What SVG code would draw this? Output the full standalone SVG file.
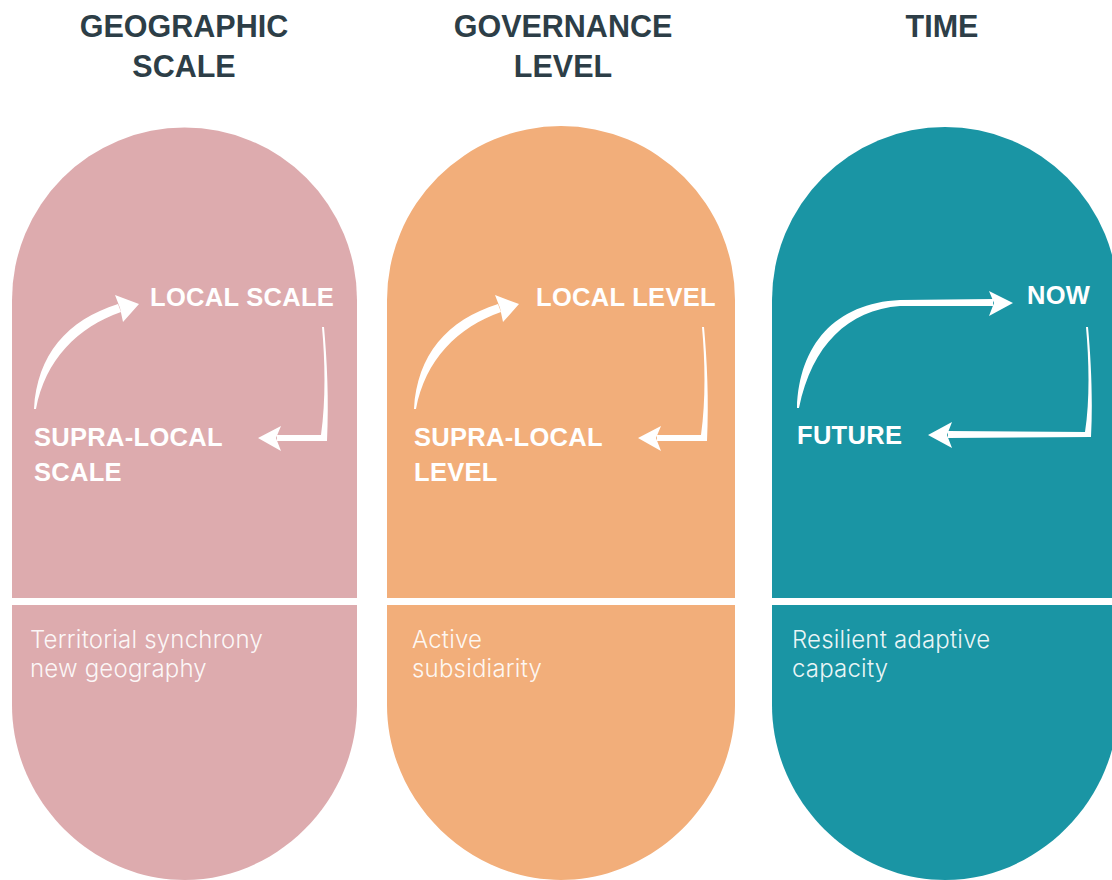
<svg xmlns="http://www.w3.org/2000/svg" width="1112" height="880" viewBox="0 0 1112 880">
<style>
.title{font-family:"Liberation Sans",Arial,sans-serif;font-weight:bold;font-size:30.5px;fill:#2D3E47;text-anchor:middle}
.lbl{font-family:"Liberation Sans",Arial,sans-serif;font-weight:bold;font-size:25.5px;fill:#FFFFFF;letter-spacing:0.3px}
.desc{font-family:Inter,"Liberation Sans",sans-serif;font-weight:300;font-size:24px;fill:#FFFFFF;fill-opacity:0.92;letter-spacing:0.2px}
.arr{fill:#FFFFFF}
</style>
<rect width="1112" height="880" fill="#FFFFFF"/>
<g id="titles">
<text class="title" x="184" y="37">GEOGRAPHIC</text>
<text class="title" x="184" y="77">SCALE</text>
<text class="title" x="563" y="37">GOVERNANCE</text>
<text class="title" x="563" y="77">LEVEL</text>
<text class="title" x="942" y="37">TIME</text>
</g>
<g id="geographic">
<path d="M12,300 A172.5,172.5 0 0 1 357,300 L357,705 C357,800 278,880 184.5,880 C91,880 12,800 12,705 Z" fill="#DDABAE"/>
<text class="lbl" x="150" y="306">LOCAL SCALE</text>
<text class="lbl" x="34" y="446">SUPRA-LOCAL</text>
<text class="lbl" x="34" y="481">SCALE</text>
<text class="desc" x="30" y="648">Territorial synchrony</text>
<text class="desc" x="30" y="677">new geography</text>
</g>
<g id="governance">
<path d="M387,300 A174,174 0 0 1 735,300 L735,705 C735,800 655,880 561,880 C467,880 387,800 387,705 Z" fill="#F2AE7A"/>
<text class="lbl" x="536" y="306">LOCAL LEVEL</text>
<text class="lbl" x="414" y="446">SUPRA-LOCAL</text>
<text class="lbl" x="414" y="481">LEVEL</text>
<text class="desc" x="412" y="648">Active</text>
<text class="desc" x="412" y="677">subsidiarity</text>
</g>
<g id="time">
<path d="M772,300 A173,173 0 0 1 1118,300 L1118,705 C1118,800 1038,880 945,880 C851,880 772,800 772,705 Z" fill="#1A95A4"/>
<text class="lbl" x="1027" y="304">NOW</text>
<text class="lbl" x="797" y="444">FUTURE</text>
<text class="desc" x="792" y="648">Resilient adaptive</text>
<text class="desc" x="792" y="677">capacity</text>
</g>
<rect x="0" y="598" width="1112" height="7" fill="#FFFFFF"/>
<g id="connectors">
<path class="arr" d="M34,409 C37,355 67,320 118,304 L121,312 C78,327 45,360 36,409 Z"/>
<path class="arr" d="M139,304 L115,295 L120,308 L123,322 Z"/>
<path class="arr" d="M322,327 C325,360 326,400 321,435 L277,435 L277,441 L327,441 C329,400 327,360 324,327 Z"/>
<path class="arr" d="M258,438 L281,426 L276,438 L281,451 Z"/>
<path class="arr" d="M414,409 C417,355 447,320 498,304 L501,312 C458,327 425,360 416,409 Z"/>
<path class="arr" d="M519,304 L495,295 L500,308 L503,322 Z"/>
<path class="arr" d="M702,327 C705,360 706,400 701,435 L657,435 L657,441 L707,441 C709,400 707,360 704,327 Z"/>
<path class="arr" d="M638,438 L661,426 L656,438 L661,451 Z"/>
<path class="arr" d="M797,408 C799,345 835,303 900,300 L993,299 L993,306 L900,306 C848,310 812,345 799,408 Z"/>
<path class="arr" d="M1013,303 L989,291 L994,303 L989,316 Z"/>
<path class="arr" d="M1086,327 C1089,360 1090,400 1085,432 L948,431 L948,438 L1091,437 C1093,400 1091,360 1088,327 Z"/>
<path class="arr" d="M928,435 L952,422 L947,435 L952,448 Z"/>
</g>
</svg>
